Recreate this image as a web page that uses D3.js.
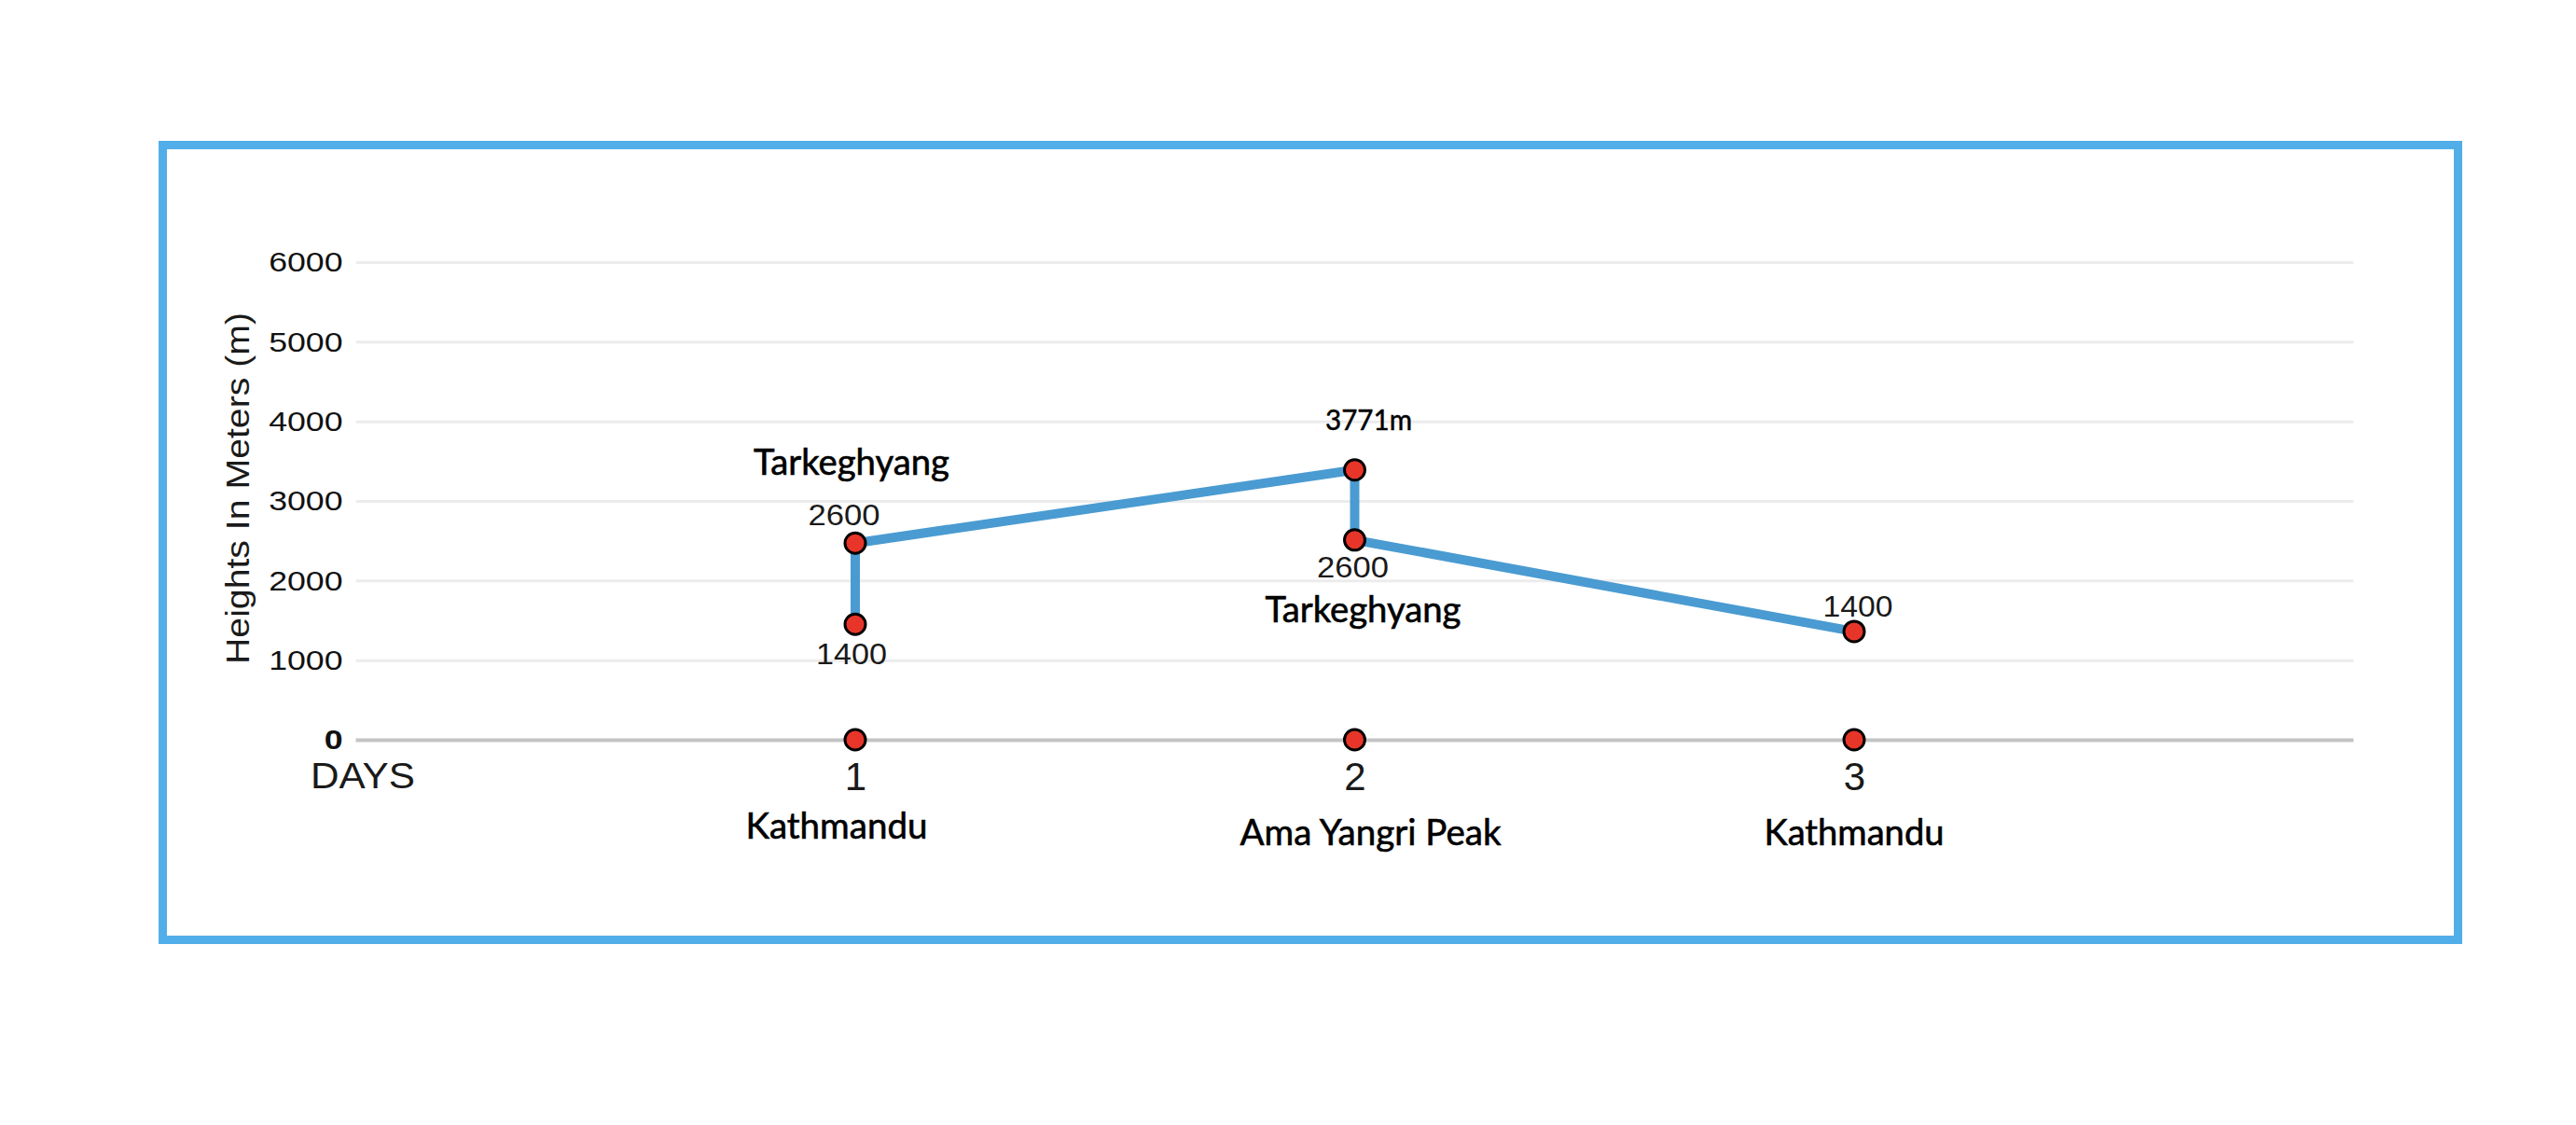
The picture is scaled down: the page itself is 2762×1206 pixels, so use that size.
<!DOCTYPE html>
<html>
<head>
<meta charset="utf-8">
<script src="https://cdn.jsdelivr.net/npm/d3@7"></script>
<style>
  html, body { margin: 0; padding: 0; background: #ffffff; }
  svg { display: block; }
</style>
</head>
<body>
<svg id="chart" width="2762" height="1206"></svg>
<script>
// ---------- DATA ----------
const dayTicks = [0, 1, 2, 3];
const dayTickLabels = ["DAYS", "1", "2", "3"];
const placeDays = [1, 2, 3];
const placeNames = ["Kathmandu", "Ama Yangri Peak", "Kathmandu"];
const yTicks = [0, 1000, 2000, 3000, 4000, 5000, 6000];
const routeDays = [1, 1, 2, 2, 3];
const routeHeights = [1450, 2470, 3390, 2510, 1360];
const heightLabels = ["1400", "2600", "3771m", "2600", "1400"];
const stopNames = ["", "Tarkeghyang", "", "Tarkeghyang", ""];
const baseDays = [1, 2, 3];
const baseHeights = [0, 0, 0];
const yTitle = "Heights In Meters (m)";

// ---------- LAYOUT / STYLE (not data) ----------
const W = 2762, H = 1206;
const xRange = [381.5, 2523.5];
const yRange = [793, 281];
const lineColor = "#4a9bd1";
const dotFill = "#e8352a";
const numLayout = [
  { dx: -4,   dy: 43,  w: 76, font: "num" },
  { dx: -12,  dy: -19, w: 77, font: "num" },
  { dx: 15,   dy: -43, w: 93, font: "cal" },
  { dx: -2,   dy: 40,  w: 77, font: "num" },
  { dx: 4,    dy: -16, w: 75, font: "num" }
];
const nameLayout = [
  null,
  { dx: -4, dy: -73, w: 210 },
  null,
  { dx: 9,  dy: 88,  w: 210 },
  null
];
const placeLayout = [
  { dx: -20, y: 899, w: 195 },
  { dx: 17,  y: 906, w: 280 },
  { dx: 0,   y: 906, w: 193 }
];
const calFont = "Lato, 'Open Sans', sans-serif";
const arialFont = "'Liberation Sans', Arial, sans-serif";

const svg = d3.select("#chart");
svg.append("rect").attr("width", W).attr("height", H).attr("fill", "#fff");

// frame
svg.append("rect")
  .attr("x", 174.5).attr("y", 155.5)
  .attr("width", 2461).attr("height", 852)
  .attr("fill", "none")
  .attr("stroke", "#52aee8")
  .attr("stroke-width", 9);

const x = d3.scaleLinear().domain([0, 4]).range(xRange);
const y = d3.scaleLinear().domain([0, 6000]).range(yRange);

// y grid + ticks via axis
const yAxis = d3.axisLeft(y)
  .tickValues(yTicks)
  .tickSize(-(xRange[1] - xRange[0]))
  .tickPadding(14)
  .tickFormat(d3.format("d"));

const gy = svg.append("g")
  .attr("transform", `translate(${xRange[0]},0)`)
  .call(yAxis);
gy.select(".domain").remove();
gy.selectAll(".tick line")
  .attr("stroke", d => d === 0 ? "#c4c4c4" : "#ececec")
  .attr("stroke-width", d => d === 0 ? 4 : 3);
gy.selectAll(".tick text")
  .attr("x", null)
  .attr("dy", null)
  .attr("text-anchor", "end")
  .attr("dominant-baseline", "central")
  .attr("transform", "translate(-14,0) scale(1.23,1)")
  .attr("fill", "#111")
  .style("font-family", arialFont)
  .style("font-size", "29px")
  .style("font-weight", d => d === 0 ? "bold" : "normal");

// x axis tick labels (numbers + DAYS)
const xAxis = d3.axisBottom(x)
  .tickValues(dayTicks)
  .tickSize(0)
  .tickPadding(0)
  .tickFormat((d, i) => dayTickLabels[i]);
const gx = svg.append("g")
  .attr("transform", `translate(0,${yRange[0]})`)
  .call(xAxis);
gx.select(".domain").remove();
gx.selectAll(".tick text")
  .attr("y", d => d === 0 ? 52 : 54)
  .attr("dy", null)
  .attr("x", d => d === 0 ? 7 : 0)
  .attr("fill", "#1a1a1a")
  .style("font-family", arialFont)
  .style("font-size", d => d === 0 ? "39px" : "42px")
  .each(function(d) {
    if (d === 0) d3.select(this).attr("textLength", 112).attr("lengthAdjust", "spacingAndGlyphs");
  });

// place names below axis
svg.append("g").selectAll("text")
  .data(placeDays)
  .join("text")
  .attr("x", (d, i) => x(d) + placeLayout[i].dx)
  .attr("y", (d, i) => placeLayout[i].y)
  .attr("text-anchor", "middle")
  .attr("textLength", (d, i) => placeLayout[i].w)
  .attr("lengthAdjust", "spacingAndGlyphs")
  .attr("fill", "#000")
  .attr("stroke", "#000")
  .attr("stroke-width", 0.6)
  .style("font-family", calFont)
  .style("font-size", "38px")
  .text((d, i) => placeNames[i]);

// y title
svg.append("text")
  .attr("transform", `translate(267,${(335 + 712) / 2}) rotate(-90)`)
  .attr("text-anchor", "middle")
  .attr("textLength", 377)
  .attr("lengthAdjust", "spacingAndGlyphs")
  .attr("fill", "#1a1a1a")
  .style("font-family", arialFont)
  .style("font-size", "35px")
  .text(yTitle);

// route line
const route = routeDays.map((d, i) => ({ day: d, h: routeHeights[i] }));
const line = d3.line().x(d => x(d.day)).y(d => y(d.h));
svg.append("path")
  .datum(route)
  .attr("d", line)
  .attr("fill", "none")
  .attr("stroke", lineColor)
  .attr("stroke-width", 10)
  .attr("stroke-linejoin", "round")
  .attr("stroke-linecap", "round");

// points
const allPts = route.concat(baseDays.map((d, i) => ({ day: d, h: baseHeights[i] })));
svg.append("g").selectAll("circle")
  .data(allPts)
  .join("circle")
  .attr("cx", d => x(d.day))
  .attr("cy", d => y(d.h))
  .attr("r", 11)
  .attr("fill", dotFill)
  .attr("stroke", "#000")
  .attr("stroke-width", 3);

// height labels
svg.append("g").selectAll("text")
  .data(route)
  .join("text")
  .attr("x", (d, i) => x(d.day) + numLayout[i].dx)
  .attr("y", (d, i) => y(d.h) + numLayout[i].dy)
  .attr("text-anchor", "middle")
  .attr("textLength", (d, i) => numLayout[i].w)
  .attr("lengthAdjust", "spacingAndGlyphs")
  .attr("fill", (d, i) => numLayout[i].font === "cal" ? "#000" : "#1a1a1a")
  .attr("stroke", (d, i) => numLayout[i].font === "cal" ? "#000" : "none")
  .attr("stroke-width", 0.5)
  .style("font-family", (d, i) => numLayout[i].font === "cal" ? calFont : arialFont)
  .style("font-size", "31px")
  .text((d, i) => heightLabels[i]);

// stop names
svg.append("g").selectAll("text")
  .data(route.filter((d, i) => stopNames[i]))
  .join("text")
  .each(function(d) {
    const i = route.indexOf(d);
    const L = nameLayout[i];
    d3.select(this)
      .attr("x", x(d.day) + L.dx)
      .attr("y", y(d.h) + L.dy)
      .attr("textLength", L.w)
      .text(stopNames[i]);
  })
  .attr("text-anchor", "middle")
  .attr("lengthAdjust", "spacingAndGlyphs")
  .attr("fill", "#000")
  .attr("stroke", "#000")
  .attr("stroke-width", 0.6)
  .style("font-family", calFont)
  .style("font-size", "38px");
</script>
</body>
</html>
